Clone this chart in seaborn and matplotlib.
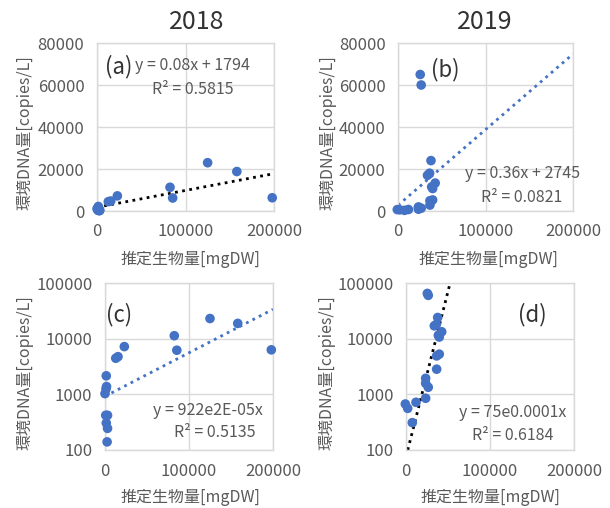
import numpy as np, pandas as pd
import matplotlib
matplotlib.use("Agg")
import matplotlib.pyplot as plt
import seaborn as sns
from matplotlib.ticker import FixedLocator, FuncFormatter

# 2018 survey: biomass [mgDW] vs eDNA [copies/L]
x_2018 = [1500, 1800, 1200, 0, 900, 3000, 1500, 3000, 2500, 12800, 15500, 23000, 82500, 85500, 125000, 158000, 198000]
y_2018 = [2150, 1380, 1250, 1030, 420, 420, 305, 245, 140, 4450, 4750, 7200, 11300, 6200, 23000, 18800, 6300]

# 2019 survey
x_2019 = [25400, 26500, 37700, 33700, 36100, 42500, 38500, 39600, 39600, 36500, 36500,
          23400, 23400, 26500, 23400, 11900, -800, 2000, 7500]
y_2019 = [65000, 60000, 24000, 17000, 18000, 13300, 11500, 10700, 5270, 4900, 2830,
          1940, 1580, 1340, 850, 720, 670, 560, 310]

# trendline coefficients
lin_2018 = (0.08, 1794)
lin_2019 = (0.36, 2745)
exp_2018 = (922, 1.8e-5)
exp_2019 = (75, 1.37e-4)

years = ["2018", "2019"]
eq_text = {"a": ("y = 0.08x + 1794", "R² = 0.5815"),
           "b": ("y = 0.36x + 2745", "R² = 0.0821"),
           "c": ("y = 922e2E-05x", "R² = 0.5135"),
           "d": ("y = 75e0.0001x", "R² = 0.6184")}

sns.set_theme(style="white")
plt.rcParams['font.family'] = ['Noto Sans CJK JP', 'DejaVu Sans']

BLUE = "#4472C4"
GRID = "#D9D9D9"
TXT = "#595959"
W, H = 610, 508

fig = plt.figure(figsize=(6.1, 5.08), dpi=100)

def box(l, r, t, b):
    return [l / W, (H - b) / H, (r - l) / W, (b - t) / H]

axes = {
    "a": fig.add_axes(box(97, 274, 43, 211)),
    "b": fig.add_axes(box(398, 573, 43, 211)),
    "c": fig.add_axes(box(105, 273, 283, 450)),
    "d": fig.add_axes(box(406, 574, 283, 450)),
}

xt = np.linspace(0, 200000, 400)
df18 = pd.DataFrame({"x": x_2018, "y": y_2018})
df19 = pd.DataFrame({"x": x_2019, "y": y_2019})

setup = {
    "a": (df18, pd.DataFrame({"x": xt, "y": lin_2018[0] * xt + lin_2018[1]}), "black", False),
    "b": (df19, pd.DataFrame({"x": xt, "y": lin_2019[0] * xt + lin_2019[1]}), BLUE, False),
    "c": (df18, pd.DataFrame({"x": xt, "y": exp_2018[0] * np.exp(exp_2018[1] * xt)}), BLUE, True),
    "d": (df19, pd.DataFrame({"x": xt, "y": exp_2019[0] * np.exp(exp_2019[1] * xt)}), "black", True),
}

for key, ax in axes.items():
    d, tr, lc, logy = setup[key]
    sns.lineplot(data=tr, x="x", y="y", ax=ax, color=lc, lw=2.0,
                 linestyle=(0, (1, 1.6)), zorder=2)
    sns.scatterplot(data=d, x="x", y="y", ax=ax, color=BLUE, s=48,
                    edgecolor="none", clip_on=False, zorder=3)
    ax.set_xlim(0, 200000)
    ax.xaxis.set_major_locator(FixedLocator([0, 100000, 200000]))
    if logy:
        ax.set_yscale("log")
        ax.set_ylim(100, 100000)
        ax.yaxis.set_major_locator(FixedLocator([100, 1000, 10000, 100000]))
        ax.yaxis.set_minor_locator(FixedLocator([]))
    else:
        ax.set_ylim(0, 80000)
        ax.yaxis.set_major_locator(FixedLocator([0, 20000, 40000, 60000, 80000]))
    fmt = FuncFormatter(lambda v, p: f"{int(round(v))}")
    ax.xaxis.set_major_formatter(fmt)
    ax.yaxis.set_major_formatter(fmt)
    ax.grid(True, color=GRID, lw=1)
    ax.set_axisbelow(True)
    for s in ax.spines.values():
        s.set_color(GRID)
        s.set_linewidth(1)
    ax.tick_params(length=0, labelsize=12, labelcolor=TXT, pad=9)
    ax.set_xlabel("")
    ax.set_ylabel("")
    ax.set_facecolor("white")

# panel letters
lab = dict(fontsize=16, color="#333333", va="center")
axes["a"].text(0.045, 0.857, "(a)", transform=axes["a"].transAxes, ha="left", **lab)
axes["b"].text(0.189, 0.839, "(b)", transform=axes["b"].transAxes, ha="left", **lab)
axes["c"].text(0.006, 0.808, "(c)", transform=axes["c"].transAxes, ha="left", **lab)
axes["d"].text(0.667, 0.808, "(d)", transform=axes["d"].transAxes, ha="left", **lab)

# trendline equations
eq = dict(fontsize=11.5, color=TXT, va="center")
axes["a"].text(0.215, 0.869, eq_text["a"][0], transform=axes["a"].transAxes, ha="left", **eq)
axes["a"].text(0.542, 0.726, eq_text["a"][1], transform=axes["a"].transAxes, ha="center", **eq)
axes["b"].text(0.709, 0.226, eq_text["b"][0], transform=axes["b"].transAxes, ha="center", **eq)
axes["b"].text(0.709, 0.083, eq_text["b"][1], transform=axes["b"].transAxes, ha="center", **eq)
axes["c"].text(0.613, 0.234, eq_text["c"][0], transform=axes["c"].transAxes, ha="center", **eq)
axes["c"].text(0.655, 0.102, eq_text["c"][1], transform=axes["c"].transAxes, ha="center", **eq)
axes["d"].text(0.637, 0.222, eq_text["d"][0], transform=axes["d"].transAxes, ha="center", **eq)
axes["d"].text(0.637, 0.084, eq_text["d"][1], transform=axes["d"].transAxes, ha="center", **eq)

# titles and axis labels in figure pixels
def ftxt(px, py, s, **kw):
    fig.text(px / W, 1 - py / H, s, **kw)

ftxt(197, 22, years[0], fontsize=18, color="#333333", ha="center", va="center")
ftxt(485, 22, years[1], fontsize=18, color="#333333", ha="center", va="center")

ylab = "環境DNA量[copies/L]"
xlab = "推定生物量[mgDW]"
lk = dict(fontsize=11.5, color=TXT, ha="center", va="center")
ftxt(25, 133, ylab, rotation=90, **lk)
ftxt(328, 133, ylab, rotation=90, **lk)
ftxt(25, 373, ylab, rotation=90, **lk)
ftxt(327, 373, ylab, rotation=90, **lk)
ftxt(190, 259, xlab, **lk)
ftxt(488, 259, xlab, **lk)
ftxt(190, 497, xlab, **lk)
ftxt(490, 497, xlab, **lk)

fig.savefig("out.png", dpi=100, facecolor="white")
